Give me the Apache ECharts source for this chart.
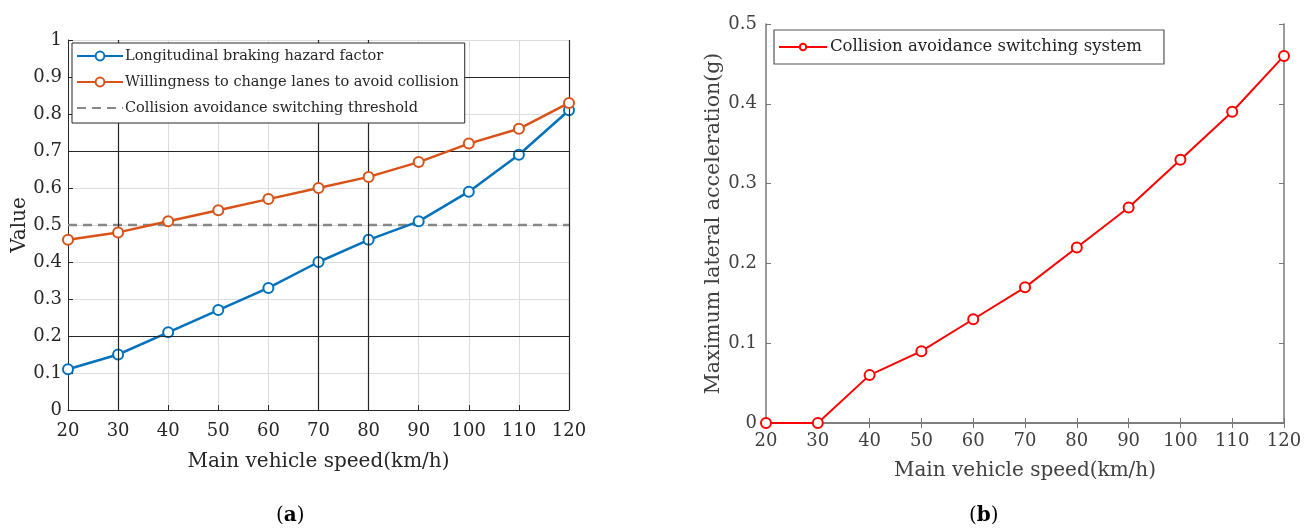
<!DOCTYPE html>
<html><head><meta charset="utf-8">
<script src="https://cdn.jsdelivr.net/npm/echarts@6/dist/echarts.min.js"></script>
<style>html,body{margin:0;padding:0;background:#fff}#c{width:1312px;height:531px}</style>
</head><body><div id="c"></div>
<script>
// ---- data ----
const speeds = [20, 30, 40, 50, 60, 70, 80, 90, 100, 110, 120];
const brakingHazard = [0.11, 0.15, 0.21, 0.27, 0.33, 0.40, 0.46, 0.51, 0.59, 0.69, 0.81];
const laneChangeWill = [0.46, 0.48, 0.51, 0.54, 0.57, 0.60, 0.63, 0.67, 0.72, 0.76, 0.83];
const switchThreshold = 0.5;
const lateralAccel = [0, 0, 0.06, 0.09, 0.13, 0.17, 0.22, 0.27, 0.33, 0.39, 0.46];
const darkGridX = [30, 70, 80, 120];
const darkGridY = [0.2, 0.7, 0.9];
const seriesNames = ['Longitudinal braking hazard factor', 'Willingness to change lanes to avoid collision', 'Collision avoidance switching threshold'];
const seriesNameB = 'Collision avoidance switching system';
const xTitle = 'Main vehicle speed(km/h)';
const yTitleA = 'Value';
const yTitleB = 'Maximum lateral acceleration(g)';

const FONT = '"DejaVu Serif", "Liberation Serif", serif';
const pair = arr => speeds.map((s, i) => [s, arr[i]]);

const chart = echarts.init(document.getElementById('c'), null, {renderer: 'canvas'});
const lightGrid = '#dcdcdc';
const darkLine = '#262626';

chart.setOption({
  animation: false,
  backgroundColor: '#fff',
  textStyle: {fontFamily: FONT},
  grid: [
    {left: 68, top: 40, width: 501, height: 370},
    {left: 766, top: 24, width: 518, height: 399}
  ],
  legend: [
    {
      z: 20,
      data: [seriesNames[0], seriesNames[1], {name: seriesNames[2], itemStyle: {opacity: 0}}],
      orient: 'vertical', left: 72, top: 43,
      padding: [4, 6, 6, 4], itemGap: 8,
      itemWidth: 46, itemHeight: 11,
      borderColor: '#262626', borderWidth: 1, backgroundColor: '#fff',
      textStyle: {fontFamily: FONT, fontSize: 14.5, color: '#262626', lineHeight: 18, padding: [0, 0, 0, -3]}
    },
    {
      z: 20,
      data: [seriesNameB],
      left: 774, top: 30,
      padding: [7, 22, 7, 4],
      itemWidth: 48, itemHeight: 8,
      borderColor: '#555', borderWidth: 1.2, backgroundColor: '#fff',
      textStyle: {fontFamily: FONT, fontSize: 16.5, color: '#222', lineHeight: 20, padding: [0, 0, 0, -2]}
    }
  ],
  xAxis: [
    {
      gridIndex: 0, type: 'value', min: 20, max: 120, interval: 10,
      name: xTitle, nameLocation: 'middle', nameGap: 42,
      nameTextStyle: {fontFamily: FONT, fontSize: 20, color: '#262626'},
      axisLine: {lineStyle: {color: darkLine, width: 1}},
      axisTick: {inside: true, length: 5, lineStyle: {color: darkLine}},
      axisLabel: {fontFamily: FONT, fontSize: 18, color: '#262626', margin: 12},
      splitLine: {show: true, lineStyle: {color: lightGrid, width: 1}}
    },
    {
      gridIndex: 1, type: 'value', min: 20, max: 120, interval: 10,
      name: xTitle, nameLocation: 'middle', nameGap: 38,
      nameTextStyle: {fontFamily: FONT, fontSize: 20, color: '#404040'},
      axisLine: {lineStyle: {color: '#777', width: 1.5}},
      axisTick: {inside: true, length: 5, lineStyle: {color: '#777'}},
      axisLabel: {fontFamily: FONT, fontSize: 18, color: '#404040', margin: 9},
      splitLine: {show: false}
    },
    {
      gridIndex: 1, type: 'value', min: 20, max: 120, interval: 10, position: 'top',
      axisLine: {lineStyle: {color: '#777', width: 1.5}},
      axisTick: {inside: true, length: 5, lineStyle: {color: '#777'}},
      axisLabel: {show: false}, splitLine: {show: false}
    }
  ],
  yAxis: [
    {
      gridIndex: 0, type: 'value', min: 0, max: 1, interval: 0.1,
      name: yTitleA, nameLocation: 'middle', nameGap: 36,
      nameTextStyle: {fontFamily: FONT, fontSize: 20, color: '#262626'},
      axisLine: {show: true, lineStyle: {color: darkLine, width: 1}},
      axisTick: {inside: true, length: 5, lineStyle: {color: darkLine}},
      axisLabel: {fontFamily: FONT, fontSize: 18, color: '#262626', margin: 6},
      splitLine: {show: true, lineStyle: {color: lightGrid, width: 1}}
    },
    {
      gridIndex: 1, type: 'value', min: 0, max: 0.5, interval: 0.1,
      name: yTitleB, nameLocation: 'middle', nameGap: 42,
      nameTextStyle: {fontFamily: FONT, fontSize: 20.5, color: '#404040'},
      axisLine: {show: true, lineStyle: {color: '#777', width: 1.5}},
      axisTick: {inside: true, length: 5, lineStyle: {color: '#777'}},
      axisLabel: {fontFamily: FONT, fontSize: 18, color: '#404040', margin: 9},
      splitLine: {show: false}
    },
    {
      gridIndex: 1, type: 'value', min: 0, max: 0.5, interval: 0.1, position: 'right',
      axisLine: {show: true, lineStyle: {color: '#777', width: 1.5}},
      axisTick: {inside: true, length: 5, lineStyle: {color: '#777'}},
      axisLabel: {show: false}, splitLine: {show: false}
    }
  ],
  series: [
    {
      name: 'darkGrid', type: 'line', xAxisIndex: 0, yAxisIndex: 0, data: [], z: 1,
      silent: true,
      markLine: {
        silent: true, symbol: 'none', label: {show: false},
        lineStyle: {color: darkLine, width: 1.2, type: 'solid'},
        data: darkGridX.map(v => ({xAxis: v})).concat(darkGridY.map(v => ({yAxis: v})))
      }
    },
    {
      name: seriesNames[2], type: 'line', xAxisIndex: 0, yAxisIndex: 0, z: 3,
      data: [[speeds[0], switchThreshold], [speeds[speeds.length - 1], switchThreshold]],
      symbol: 'none', color: '#888888',
      lineStyle: {color: '#888888', width: 2.5, type: [9, 6]}
    },
    {
      name: seriesNames[0], type: 'line', xAxisIndex: 0, yAxisIndex: 0, z: 4,
      data: pair(brakingHazard), color: '#0072BD',
      symbol: 'emptyCircle', symbolSize: 10,
      lineStyle: {width: 2.5}, itemStyle: {borderWidth: 2.5}
    },
    {
      name: seriesNames[1], type: 'line', xAxisIndex: 0, yAxisIndex: 0, z: 5,
      data: pair(laneChangeWill), color: '#D95319',
      symbol: 'emptyCircle', symbolSize: 10,
      lineStyle: {width: 2.5}, itemStyle: {borderWidth: 2.5}
    },
    {
      name: seriesNameB, type: 'line', xAxisIndex: 1, yAxisIndex: 1, z: 4,
      data: pair(lateralAccel), color: '#ff0000',
      symbol: 'emptyCircle', symbolSize: 10,
      lineStyle: {width: 2}, itemStyle: {borderWidth: 2}
    }
  ],
  graphic: [
    {type: 'text', left: 276, top: 506, style: {
      rich: {p: {fontFamily: FONT, fontSize: 20, fill: '#000'}, b: {fontFamily: FONT, fontSize: 20, fontWeight: 'bold', fill: '#000'}},
      text: '{p|(}{b|a}{p|)}'}},
    {type: 'text', left: 969, top: 506, style: {
      rich: {p: {fontFamily: FONT, fontSize: 20, fill: '#000'}, b: {fontFamily: FONT, fontSize: 20, fontWeight: 'bold', fill: '#000'}},
      text: '{p|(}{b|b}{p|)}'}}
  ]
});
</script>
</body></html>
